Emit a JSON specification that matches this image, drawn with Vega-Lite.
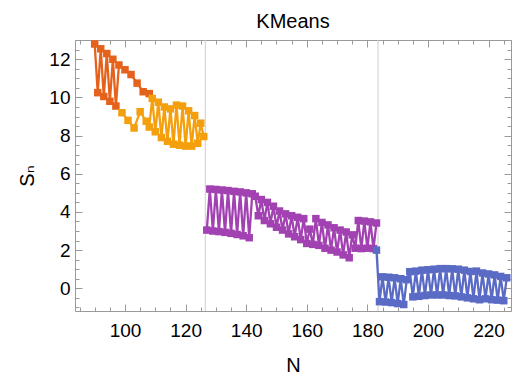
{
  "$schema": "https://vega.github.io/schema/vega-lite/v6.json",
  "width": 436,
  "height": 271,
  "autosize": {"type": "none"},
  "padding": {"left": 75, "top": 40, "right": 2, "bottom": 65},
  "background": "white",
  "title": {"text": "KMeans", "fontSize": 20, "font": "Liberation Sans", "fontWeight": "normal", "color": "#000", "offset": 7},
  "config": {
    "view": {"stroke": null},
    "axis": {"domainColor": "#999", "tickColor": "#999", "labelColor": "#000", "labelFont": "Liberation Sans", "labelFontSize": 19, "titleFont": "Liberation Sans, DejaVu Sans", "titleFontSize": 20, "titleFontWeight": "normal", "titleColor": "#000", "grid": false, "domainWidth": 1, "tickWidth": 1}
  },
  "data": {"values": [
    {"N": 90, "S": 12.8, "g": "a"}, {"N": 91, "S": 10.25, "g": "a"}, {"N": 92, "S": 12.55, "g": "a"}, {"N": 93, "S": 10.05, "g": "a"},
    {"N": 94, "S": 12.3, "g": "a"}, {"N": 95, "S": 9.8, "g": "a"}, {"N": 96, "S": 12.0, "g": "a"}, {"N": 97, "S": 9.55, "g": "a"},
    {"N": 98, "S": 11.7, "g": "a"}, {"N": 100, "S": 11.45, "g": "a"}, {"N": 102, "S": 11.2, "g": "a"}, {"N": 104, "S": 10.75, "g": "a"},
    {"N": 106, "S": 10.3, "g": "a"}, {"N": 108, "S": 10.2, "g": "a"},
    {"N": 99, "S": 9.2, "g": "b"}, {"N": 101, "S": 8.8, "g": "b"}, {"N": 103, "S": 8.4, "g": "b"}, {"N": 105, "S": 9.25, "g": "b"},
    {"N": 107, "S": 8.75, "g": "b"}, {"N": 108, "S": 8.45, "g": "b"}, {"N": 109, "S": 9.95, "g": "b"}, {"N": 110, "S": 8.2, "g": "b"},
    {"N": 111, "S": 9.75, "g": "b"}, {"N": 112, "S": 7.9, "g": "b"}, {"N": 113, "S": 9.5, "g": "b"}, {"N": 114, "S": 7.7, "g": "b"},
    {"N": 115, "S": 9.4, "g": "b"}, {"N": 116, "S": 7.55, "g": "b"}, {"N": 117, "S": 9.6, "g": "b"}, {"N": 118, "S": 7.5, "g": "b"},
    {"N": 119, "S": 9.55, "g": "b"}, {"N": 120, "S": 7.45, "g": "b"}, {"N": 121, "S": 9.3, "g": "b"}, {"N": 122, "S": 7.45, "g": "b"},
    {"N": 123, "S": 9.05, "g": "b"}, {"N": 124, "S": 7.6, "g": "b"}, {"N": 125, "S": 8.65, "g": "b"}, {"N": 126, "S": 7.95, "g": "b"},
    {"N": 127, "S": 3.05, "g": "c"}, {"N": 128, "S": 5.2, "g": "c"}, {"N": 129, "S": 3.0, "g": "c"}, {"N": 130, "S": 5.18, "g": "c"},
    {"N": 131, "S": 2.97, "g": "c"}, {"N": 132, "S": 5.15, "g": "c"}, {"N": 133, "S": 2.93, "g": "c"}, {"N": 134, "S": 5.12, "g": "c"},
    {"N": 135, "S": 2.88, "g": "c"}, {"N": 136, "S": 5.08, "g": "c"}, {"N": 137, "S": 2.82, "g": "c"}, {"N": 138, "S": 5.05, "g": "c"},
    {"N": 139, "S": 2.75, "g": "c"}, {"N": 140, "S": 5.0, "g": "c"}, {"N": 141, "S": 2.65, "g": "c"}, {"N": 142, "S": 4.95, "g": "c"},
    {"N": 143, "S": 4.82, "g": "c"}, {"N": 144, "S": 3.8, "g": "c"}, {"N": 145, "S": 4.65, "g": "c"}, {"N": 146, "S": 3.55, "g": "c"},
    {"N": 147, "S": 4.5, "g": "c"}, {"N": 148, "S": 3.38, "g": "c"}, {"N": 149, "S": 4.3, "g": "c"}, {"N": 150, "S": 3.2, "g": "c"},
    {"N": 151, "S": 4.05, "g": "c"}, {"N": 152, "S": 3.05, "g": "c"}, {"N": 153, "S": 3.9, "g": "c"}, {"N": 154, "S": 2.85, "g": "c"},
    {"N": 155, "S": 3.8, "g": "c"}, {"N": 156, "S": 2.7, "g": "c"}, {"N": 157, "S": 3.72, "g": "c"}, {"N": 158, "S": 2.55, "g": "c"},
    {"N": 159, "S": 3.65, "g": "c"}, {"N": 160, "S": 2.35, "g": "c"}, {"N": 161, "S": 3.1, "g": "c"}, {"N": 162, "S": 2.3, "g": "c"},
    {"N": 163, "S": 3.65, "g": "c"}, {"N": 164, "S": 2.25, "g": "c"}, {"N": 165, "S": 3.45, "g": "c"}, {"N": 166, "S": 2.1, "g": "c"},
    {"N": 167, "S": 3.32, "g": "c"}, {"N": 168, "S": 2.0, "g": "c"}, {"N": 169, "S": 3.17, "g": "c"}, {"N": 170, "S": 1.9, "g": "c"},
    {"N": 171, "S": 3.05, "g": "c"}, {"N": 172, "S": 1.75, "g": "c"}, {"N": 173, "S": 2.95, "g": "c"}, {"N": 174, "S": 1.6, "g": "c"},
    {"N": 175, "S": 2.8, "g": "c"}, {"N": 176, "S": 2.1, "g": "c"}, {"N": 177, "S": 3.55, "g": "c"}, {"N": 178, "S": 2.08, "g": "c"},
    {"N": 179, "S": 3.52, "g": "c"}, {"N": 180, "S": 2.1, "g": "c"}, {"N": 181, "S": 3.48, "g": "c"}, {"N": 182, "S": 2.08, "g": "c"},
    {"N": 183, "S": 3.42, "g": "c"},
    {"N": 183, "S": 2.0, "g": "d"}, {"N": 184, "S": -0.7, "g": "d"}, {"N": 185, "S": 0.6, "g": "d"}, {"N": 186, "S": -0.72, "g": "d"},
    {"N": 187, "S": 0.58, "g": "d"}, {"N": 188, "S": -0.75, "g": "d"}, {"N": 189, "S": 0.55, "g": "d"}, {"N": 190, "S": -0.8, "g": "d"},
    {"N": 191, "S": 0.5, "g": "d"}, {"N": 192, "S": -0.85, "g": "d"}, {"N": 193, "S": 0.45, "g": "d"}, {"N": 194, "S": 0.87, "g": "d"},
    {"N": 195, "S": -0.45, "g": "d"}, {"N": 196, "S": 0.9, "g": "d"}, {"N": 197, "S": -0.42, "g": "d"}, {"N": 198, "S": 0.95, "g": "d"},
    {"N": 199, "S": -0.38, "g": "d"}, {"N": 200, "S": 0.97, "g": "d"}, {"N": 201, "S": -0.35, "g": "d"}, {"N": 202, "S": 1.0, "g": "d"},
    {"N": 203, "S": -0.35, "g": "d"}, {"N": 204, "S": 1.03, "g": "d"}, {"N": 205, "S": -0.35, "g": "d"}, {"N": 206, "S": 1.03, "g": "d"},
    {"N": 207, "S": -0.38, "g": "d"}, {"N": 208, "S": 1.02, "g": "d"}, {"N": 209, "S": -0.4, "g": "d"}, {"N": 210, "S": 1.0, "g": "d"},
    {"N": 211, "S": -0.45, "g": "d"}, {"N": 212, "S": 0.95, "g": "d"}, {"N": 213, "S": -0.5, "g": "d"}, {"N": 214, "S": 0.88, "g": "d"},
    {"N": 215, "S": -0.55, "g": "d"}, {"N": 216, "S": 0.9, "g": "d"}, {"N": 217, "S": -0.6, "g": "d"}, {"N": 218, "S": 0.8, "g": "d"},
    {"N": 219, "S": -0.55, "g": "d"}, {"N": 220, "S": 0.75, "g": "d"}, {"N": 221, "S": -0.6, "g": "d"}, {"N": 222, "S": 0.7, "g": "d"},
    {"N": 223, "S": -0.62, "g": "d"}, {"N": 224, "S": 0.62, "g": "d"}, {"N": 225, "S": -0.65, "g": "d"}, {"N": 226, "S": 0.55, "g": "d"}
  ]},
  "layer": [
    {
      "data": {"values": [{"v": 126.5}, {"v": 183.5}]},
      "mark": {"type": "rule", "color": "#cccccc", "strokeWidth": 1},
      "encoding": {"x": {"field": "v", "type": "quantitative", "scale": {"domain": [83.5, 227.4], "nice": false, "zero": false}, "axis": null}}
    },
    {
      "mark": {"type": "line", "strokeWidth": 2.3},
      "encoding": {
        "x": {"field": "N", "type": "quantitative", "scale": {"domain": [83.5, 227.4], "nice": false, "zero": false},
              "axis": {"orient": "bottom", "values": [100, 120, 140, 160, 180, 200, 220], "tickSize": -7, "labelPadding": 17, "title": "N", "titlePadding": 15}},
        "y": {"field": "S", "type": "quantitative", "scale": {"domain": [-1.19, 13.01], "nice": false, "zero": false},
              "axis": {"orient": "left", "values": [0, 2, 4, 6, 8, 10, 12], "tickSize": -7, "labelPadding": 12, "title": "Sₙ", "titlePadding": 11}},
        "color": {"field": "g", "type": "nominal", "scale": {"domain": ["a", "b", "c", "d"], "range": ["#E5621C", "#F4A00E", "#A241B1", "#5A6BC5"]}, "legend": null}
      }
    },
    {
      "mark": {"type": "square", "size": 56, "opacity": 1},
      "encoding": {
        "x": {"field": "N", "type": "quantitative", "scale": {"domain": [83.5, 227.4], "nice": false, "zero": false}, "axis": null},
        "y": {"field": "S", "type": "quantitative", "scale": {"domain": [-1.19, 13.01], "nice": false, "zero": false}, "axis": null},
        "color": {"field": "g", "type": "nominal", "scale": {"domain": ["a", "b", "c", "d"], "range": ["#E5621C", "#F4A00E", "#A241B1", "#5A6BC5"]}, "legend": null}
      }
    },
    {
      "mark": {"type": "point", "opacity": 0},
      "encoding": {
        "x": {"field": "N", "type": "quantitative", "scale": {"domain": [83.5, 227.4], "nice": false, "zero": false},
              "axis": {"orient": "bottom", "values": [85, 90, 95, 105, 110, 115, 125, 130, 135, 145, 150, 155, 165, 170, 175, 185, 190, 195, 205, 210, 215, 225], "tickSize": -4, "labels": false, "domain": false, "title": null}},
        "y": {"field": "S", "type": "quantitative", "scale": {"domain": [-1.19, 13.01], "nice": false, "zero": false},
              "axis": {"orient": "left", "values": [-1, -0.5, 0.5, 1, 1.5, 2.5, 3, 3.5, 4.5, 5, 5.5, 6.5, 7, 7.5, 8.5, 9, 9.5, 10.5, 11, 11.5, 12.5, 13], "tickSize": -4, "labels": false, "domain": false, "title": null}}
      }
    },
    {
      "mark": {"type": "point", "opacity": 0},
      "encoding": {
        "x": {"field": "N", "type": "quantitative", "scale": {"domain": [83.5, 227.4], "nice": false, "zero": false},
              "axis": {"orient": "top", "values": [100, 120, 140, 160, 180, 200, 220], "tickSize": -7, "labels": false, "title": null}},
        "y": {"field": "S", "type": "quantitative", "scale": {"domain": [-1.19, 13.01], "nice": false, "zero": false},
              "axis": {"orient": "right", "values": [0, 2, 4, 6, 8, 10, 12], "tickSize": -7, "labels": false, "title": null}}
      }
    },
    {
      "mark": {"type": "point", "opacity": 0},
      "encoding": {
        "x": {"field": "N", "type": "quantitative", "scale": {"domain": [83.5, 227.4], "nice": false, "zero": false},
              "axis": {"orient": "top", "values": [85, 90, 95, 105, 110, 115, 125, 130, 135, 145, 150, 155, 165, 170, 175, 185, 190, 195, 205, 210, 215, 225], "tickSize": -4, "labels": false, "domain": false, "title": null}},
        "y": {"field": "S", "type": "quantitative", "scale": {"domain": [-1.19, 13.01], "nice": false, "zero": false},
              "axis": {"orient": "right", "values": [-1, -0.5, 0.5, 1, 1.5, 2.5, 3, 3.5, 4.5, 5, 5.5, 6.5, 7, 7.5, 8.5, 9, 9.5, 10.5, 11, 11.5, 12.5, 13], "tickSize": -4, "labels": false, "domain": false, "title": null}}
      }
    }
  ],
  "resolve": {"axis": {"x": "independent", "y": "independent"}}
}
